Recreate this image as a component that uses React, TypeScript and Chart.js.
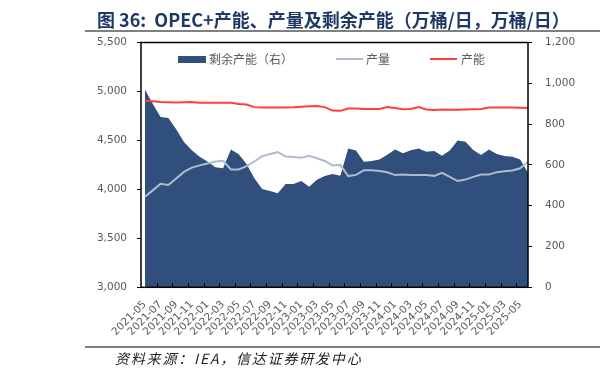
import React, { useEffect, useRef } from "react";
import { Chart, registerables } from "chart.js";

Chart.register(...registerables);

const months = [
  "2021-05", "2021-06", "2021-07", "2021-08", "2021-09", "2021-10", "2021-11", "2021-12",
  "2022-01", "2022-02", "2022-03", "2022-04", "2022-05", "2022-06", "2022-07", "2022-08", "2022-09", "2022-10", "2022-11", "2022-12",
  "2023-01", "2023-02", "2023-03", "2023-04", "2023-05", "2023-06", "2023-07", "2023-08", "2023-09", "2023-10", "2023-11", "2023-12",
  "2024-01", "2024-02", "2024-03", "2024-04", "2024-05", "2024-06", "2024-07", "2024-08", "2024-09", "2024-10", "2024-11", "2024-12",
  "2025-01", "2025-02", "2025-03", "2025-04", "2025-05", "2025-06",
];

// 剩余产能（右轴）
const spareCapacity = [
  970, 900, 835, 830, 775, 712, 672, 640, 617, 588,
  583, 676, 652, 605, 535, 482, 472, 461, 506, 506,
  521, 493, 527, 546, 555, 547, 680, 670, 616, 619,
  627, 650, 676, 657, 672, 681, 665, 668, 645, 670,
  719, 713, 673, 649, 676, 653, 644, 640, 627, 562,
];

// 产量（左轴）
const production = [
  3924, 3990, 4058, 4045, 4112, 4178, 4222, 4245, 4265, 4285,
  4292, 4204, 4204, 4238, 4285, 4338, 4362, 4380, 4335, 4330,
  4322, 4343, 4318, 4290, 4245, 4250, 4136, 4148, 4195, 4195,
  4188, 4175, 4146, 4152, 4146, 4148, 4146, 4138, 4168, 4128,
  4085, 4100, 4128, 4152, 4153, 4176, 4185, 4192, 4215, 4282,
];

// 产能（左轴）
const capacity = [
  4904, 4900, 4893, 4890, 4888, 4890, 4893, 4885, 4884, 4884,
  4884, 4884, 4872, 4867, 4840, 4837, 4837, 4837, 4837, 4838,
  4843, 4849, 4852, 4840, 4805, 4802, 4826, 4825, 4820, 4820,
  4820, 4840, 4832, 4818, 4822, 4840, 4816, 4810, 4816, 4812,
  4814, 4816, 4818, 4820, 4836, 4837, 4837, 4837, 4834, 4830,
];

const leftMin = 3000;
const leftMax = 5500;
const leftStep = 500;
const rightMin = 0;
const rightMax = 1200;
const rightStep = 200;
const labelEvery = 2;

const titleText = "图 36:\u00a0\u00a0OPEC+产能、产量及剩余产能（万桶/日，万桶/日）";
const sourceText = "资料来源：IEA，信达证券研发中心";
const legendNames = ["剩余产能（右）", "产量", "产能"];

const AREA_COLOR = "#304F7D";
const PROD_COLOR = "#AFBCCF";
const CAP_COLOR = "#FF3F3F";
const TICK_COLOR = "#595959";
const TICK_FONT = { family: "'DejaVu Sans', sans-serif", size: 10.5 };

const framePlugin = {
  id: "frameAndTicks",
  afterDraw(chart: any) {
    const { ctx, chartArea: a, scales } = chart;
    ctx.save();
    ctx.strokeStyle = "#000";
    ctx.lineWidth = 1.5;
    ctx.strokeRect(a.left, a.top, a.right - a.left, a.bottom - a.top);
    ctx.lineWidth = 1;
    const xs = scales.x;
    for (let k = labelEvery - 0.5; k < months.length - 1; k += labelEvery) {
      const px = Math.round(xs.getPixelForValue(k)) + 0.5;
      ctx.beginPath();
      ctx.moveTo(px, a.bottom);
      ctx.lineTo(px, a.bottom - 4);
      ctx.stroke();
    }
    ctx.restore();
  },
};

export default function App() {
  const canvasRef = useRef<HTMLCanvasElement | null>(null);

  useEffect(() => {
    const canvas = canvasRef.current;
    if (!canvas) return;
    const chart = new Chart(canvas, {
      type: "line",
      data: {
        datasets: [
          {
            label: legendNames[2],
            data: capacity.map((v, i) => ({ x: i, y: v })),
            yAxisID: "y",
            borderColor: CAP_COLOR,
            borderWidth: 2,
            pointRadius: 0,
            tension: 0,
            fill: false,
            order: 0,
          },
          {
            label: legendNames[1],
            data: production.map((v, i) => ({ x: i, y: v })),
            yAxisID: "y",
            borderColor: PROD_COLOR,
            borderWidth: 2,
            pointRadius: 0,
            tension: 0,
            fill: false,
            order: 1,
          },
          {
            label: legendNames[0],
            data: spareCapacity.map((v, i) => ({ x: i, y: v })),
            yAxisID: "y1",
            borderColor: AREA_COLOR,
            backgroundColor: AREA_COLOR,
            borderWidth: 0,
            pointRadius: 0,
            tension: 0,
            fill: "origin",
            order: 2,
          },
        ],
      },
      options: {
        responsive: false,
        animation: false,
        events: [],
        layout: { padding: { top: 42.5, left: 0, right: 0, bottom: 0 } },
        plugins: {
          legend: { display: false },
          tooltip: { enabled: false },
          title: { display: false },
        },
        scales: {
          x: {
            type: "linear",
            min: -0.5,
            max: months.length - 1,
            grid: { display: false, drawTicks: false },
            border: { display: false },
            afterBuildTicks: (s: any) => {
              s.ticks = months
                .map((_, i) => ({ value: i }))
                .filter((t) => t.value % labelEvery === 0);
            },
            afterFit: (s: any) => {
              s.height = 377 - 287.3;
            },
            ticks: {
              autoSkip: false,
              minRotation: 45,
              maxRotation: 45,
              padding: 11,
              color: TICK_COLOR,
              font: TICK_FONT,
              callback: (v: any) => months[v as number] ?? "",
            },
          },
          y: {
            type: "linear",
            position: "left",
            min: leftMin,
            max: leftMax,
            grid: { drawOnChartArea: false, drawTicks: true, tickLength: 4, color: "#000" },
            border: { display: false },
            afterFit: (s: any) => {
              s.width = 141;
            },
            ticks: {
              stepSize: leftStep,
              padding: 10,
              color: TICK_COLOR,
              font: TICK_FONT,
              callback: (v: any) => Number(v).toLocaleString("en-US"),
            },
          },
          y1: {
            type: "linear",
            position: "right",
            min: rightMin,
            max: rightMax,
            grid: { drawOnChartArea: false, drawTicks: true, tickLength: 4, color: "#000" },
            border: { display: false },
            afterFit: (s: any) => {
              s.width = 72;
            },
            ticks: {
              stepSize: rightStep,
              padding: 13,
              color: TICK_COLOR,
              font: TICK_FONT,
              callback: (v: any) => Number(v).toLocaleString("en-US"),
            },
          },
        },
      },
      plugins: [framePlugin],
    });
    return () => chart.destroy();
  }, []);

  const cjk = "'Noto Sans CJK SC', 'Noto Sans', sans-serif";
  const legendText: React.CSSProperties = {
    position: "absolute",
    top: 51,
    fontFamily: cjk,
    fontSize: 12,
    lineHeight: "15px",
    color: TICK_COLOR,
    whiteSpace: "nowrap",
  };

  return (
    <div
      style={{
        position: "fixed",
        left: 0,
        top: 0,
        width: 600,
        height: 377,
        background: "#fff",
        overflow: "hidden",
      }}
    >
      <canvas ref={canvasRef} width={600} height={377} style={{ position: "absolute", left: 0, top: 0 }} />
      <div
        style={{
          position: "absolute",
          left: 97,
          top: 9,
          fontFamily: cjk,
          fontWeight: 700,
          fontSize: 18,
          lineHeight: "20px",
          color: "#203864",
          whiteSpace: "nowrap",
        }}
      >
        {titleText}
      </div>
      <div style={{ position: "absolute", left: 85, top: 30, width: 515, height: 2, background: "#808080" }} />
      <div style={{ position: "absolute", left: 178, top: 55.5, width: 27.5, height: 7, background: AREA_COLOR }} />
      <div style={{ ...legendText, left: 209 }}>{legendNames[0]}</div>
      <div style={{ position: "absolute", left: 336, top: 57.5, width: 27, height: 2.5, background: PROD_COLOR }} />
      <div style={{ ...legendText, left: 366 }}>{legendNames[1]}</div>
      <div style={{ position: "absolute", left: 430, top: 57.5, width: 27, height: 2.5, background: CAP_COLOR }} />
      <div style={{ ...legendText, left: 461 }}>{legendNames[2]}</div>
      <div style={{ position: "absolute", left: 85, top: 346, width: 515, height: 2, background: "#808080" }} />
      <div
        style={{
          position: "absolute",
          left: 115,
          top: 350,
          fontFamily: cjk,
          fontStyle: "italic",
          fontSize: 14,
          lineHeight: "16px",
          letterSpacing: "1.8px",
          color: "#222",
          whiteSpace: "nowrap",
        }}
      >
        {sourceText}
      </div>
    </div>
  );
}
